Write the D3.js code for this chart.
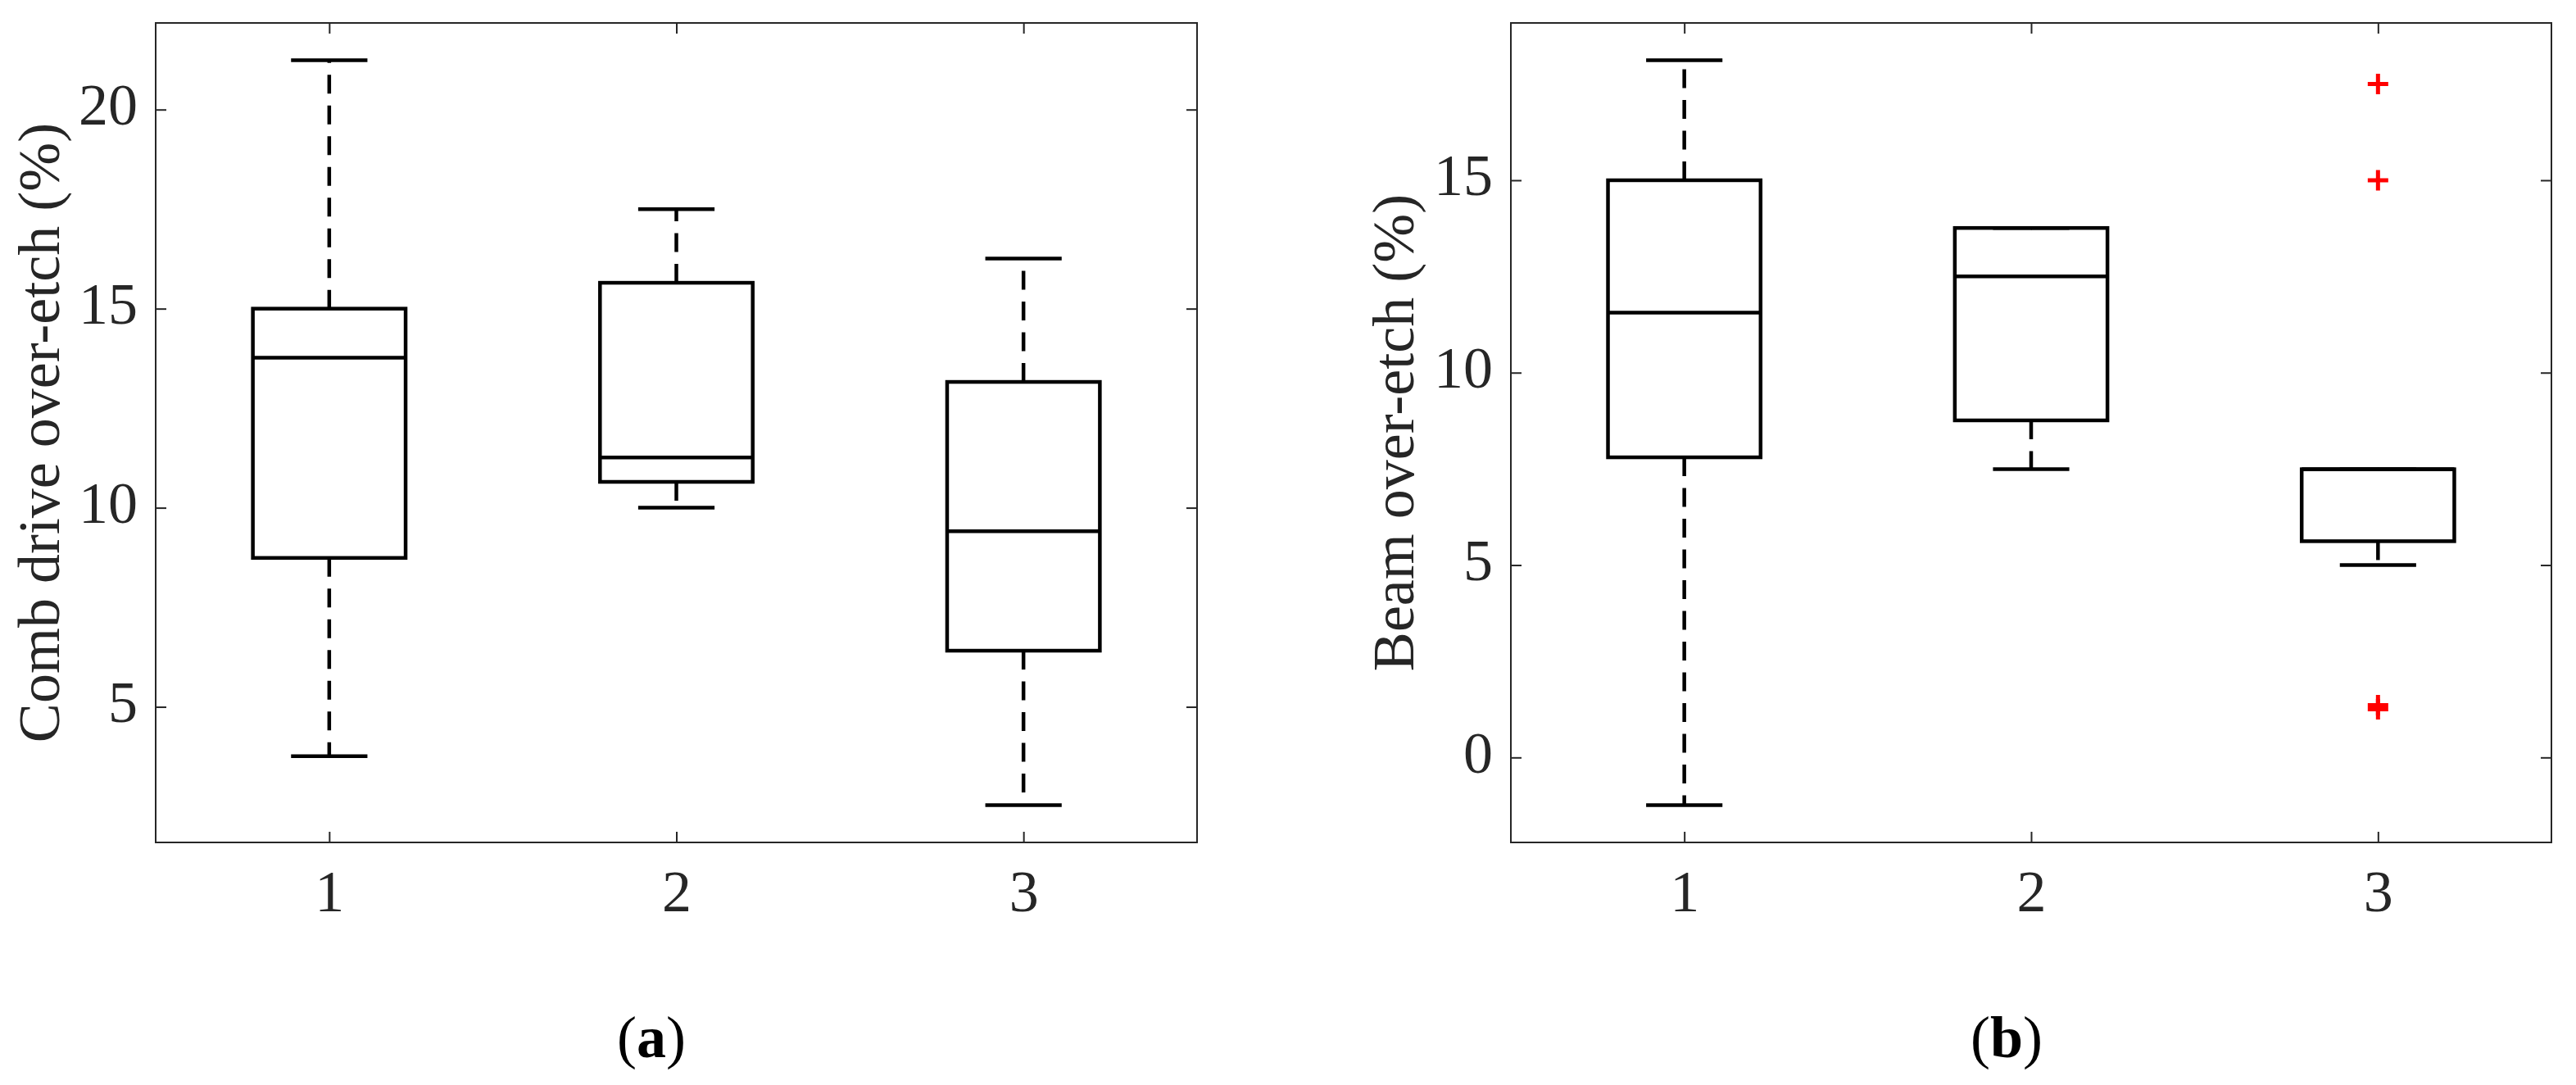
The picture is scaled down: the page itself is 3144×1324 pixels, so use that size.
<!DOCTYPE html>
<html>
<head>
    <meta charset="utf-8" />
    <title>Over-etch box plots</title>
    <style>
        body { margin: 0; background: #fff; overflow: hidden; }
    </style>
</head>
<body>
<script src="https://d3js.org/d3.v7.min.js"></script>
<script>
    var groups = [1, 2, 3];

    // (a) comb drive over-etch, one value per group
    var combLower    = [3.76, 10.0, 2.53];
    var combQ1       = [8.74, 10.65, 6.41];
    var combMedian   = [13.77, 11.26, 9.41];
    var combQ3       = [15.0, 15.65, 13.16];
    var combUpper    = [21.24, 17.5, 16.26];
    var combOutliers = [[], [], []];
    var combTicks    = [5, 10, 15, 20];

    // (b) beam over-etch
    var beamLower    = [-1.24, 7.49, 5.0];
    var beamQ1       = [7.80, 8.76, 5.62];
    var beamMedian   = [11.56, 12.50, 7.49];
    var beamQ3       = [15.0, 13.76, 7.49];
    var beamUpper    = [18.12, 13.76, 7.49];
    var beamOutliers = [[], [], [17.5, 15.0, 1.36, 1.25]];
    var beamTicks    = [0, 5, 10, 15];

    var width = 3144;
    var height = 1324;
    // note: "top" is taken by window.top, so plotTop
    var plotTop = 28, plotBottom = 1028;
    var font = "'Liberation Serif', 'DejaVu Serif', serif";
    var axisColor = "#262626";

    var svg = d3.select("body").append("svg")
                .attr("width", width)
                .attr("height", height);

    var panels = [
        {"ylabel": "Comb drive over-etch (%)", "caption": "a",
         "left": 190, "right": 1461, "labelX": 72, "captionX": 795,
         "lower": combLower, "q1": combQ1, "median": combMedian, "q3": combQ3,
         "upper": combUpper, "outliers": combOutliers, "ticks": combTicks},
        {"ylabel": "Beam over-etch (%)", "caption": "b",
         "left": 1844, "right": 3114, "labelX": 1725, "captionX": 2449,
         "lower": beamLower, "q1": beamQ1, "median": beamMedian, "q3": beamQ3,
         "upper": beamUpper, "outliers": beamOutliers, "ticks": beamTicks}
    ];

    panels.forEach(drawPanel);

    function drawPanel(p) {
        var x = d3.scaleLinear().domain([0.5, 3.5]).range([p.left, p.right]);

        // matlab style limits: data range plus 5% each side
        var all = d3.merge([p.lower, p.upper, d3.merge(p.outliers)]);
        var lo = d3.min(all), hi = d3.max(all);
        var pad = (hi - lo) * 0.05;
        var y = d3.scaleLinear().domain([lo - pad, hi + pad]).range([plotBottom, plotTop]);

        var g = svg.append("g");

        // axes, ticks pointing inward
        var left = g.append("g")
                    .attr("transform", "translate(" + p.left + ",0)")
                    .call(d3.axisLeft(y).tickValues(p.ticks).tickSizeInner(-13).tickSizeOuter(0).tickPadding(22));
        var right = g.append("g")
                     .attr("transform", "translate(" + p.right + ",0)")
                     .call(d3.axisRight(y).tickValues(p.ticks).tickSizeInner(-13).tickSizeOuter(0).tickFormat(""));
        var bot = g.append("g")
                   .attr("transform", "translate(0," + plotBottom + ")")
                   .call(d3.axisBottom(x).tickValues(groups).tickSizeInner(-13).tickSizeOuter(0).tickFormat(d3.format("d")));
        var topAx = g.append("g")
                     .attr("transform", "translate(0," + plotTop + ")")
                     .call(d3.axisTop(x).tickValues(groups).tickSizeInner(-13).tickSizeOuter(0).tickFormat(""));

        [left, right, bot, topAx].forEach(function(a) {
            a.select(".domain").remove();
            a.selectAll("line").attr("stroke", axisColor).attr("stroke-width", 2);
            a.selectAll("text")
             .attr("font-family", font)
             .attr("font-size", 72)
             .attr("fill", axisColor);
        });
        left.selectAll("text").attr("dy", "0.25em");
        bot.selectAll("text").attr("y", 84).attr("dy", 0);

        g.append("rect")
         .attr("x", p.left)
         .attr("y", plotTop)
         .attr("width", p.right - p.left)
         .attr("height", plotBottom - plotTop)
         .attr("fill", "none")
         .attr("stroke", axisColor)
         .attr("stroke-width", 2);

        var halfBox = 0.22, halfCap = 0.11;

        var boxes = g.append("g")
                     .attr("stroke", "#000")
                     .attr("stroke-width", 4.5)
                     .attr("fill", "none")
                     .selectAll("g")
                     .data(groups)
                     .enter().append("g");

        // whiskers run from the box out to the caps
        boxes.append("line")
             .attr("x1", d => x(d)).attr("x2", d => x(d))
             .attr("y1", (d, i) => y(p.q3[i]))
             .attr("y2", (d, i) => y(p.upper[i]))
             .attr("stroke-dasharray", "23,14.5");
        boxes.append("line")
             .attr("x1", d => x(d)).attr("x2", d => x(d))
             .attr("y1", (d, i) => y(p.q1[i]))
             .attr("y2", (d, i) => y(p.lower[i]))
             .attr("stroke-dasharray", "23,14.5");
        boxes.append("line")
             .attr("x1", d => x(d - halfCap)).attr("x2", d => x(d + halfCap))
             .attr("y1", (d, i) => y(p.upper[i]))
             .attr("y2", (d, i) => y(p.upper[i]));
        boxes.append("line")
             .attr("x1", d => x(d - halfCap)).attr("x2", d => x(d + halfCap))
             .attr("y1", (d, i) => y(p.lower[i]))
             .attr("y2", (d, i) => y(p.lower[i]));
        boxes.append("rect")
             .attr("x", d => x(d - halfBox))
             .attr("width", d => x(d + halfBox) - x(d - halfBox))
             .attr("y", (d, i) => y(p.q3[i]))
             .attr("height", (d, i) => y(p.q1[i]) - y(p.q3[i]));
        boxes.append("line")
             .attr("x1", d => x(d - halfBox)).attr("x2", d => x(d + halfBox))
             .attr("y1", (d, i) => y(p.median[i]))
             .attr("y2", (d, i) => y(p.median[i]));

        // outliers as red plus signs
        var pts = [];
        p.outliers.forEach(function(list, i) {
            list.forEach(function(v) { pts.push({"g": groups[i], "v": v}); });
        });
        g.append("g")
         .selectAll("path")
         .data(pts)
         .enter().append("path")
         .attr("transform", d => "translate(" + x(d.g) + "," + y(d.v) + ")")
         .attr("d", "M-12.5,0H12.5M0,-12.5V12.5")
         .attr("stroke", "#ff0000")
         .attr("stroke-width", 5)
         .attr("fill", "none");

        g.append("text")
         .attr("transform", "translate(" + p.labelX + "," + ((plotTop + plotBottom) / 2) + ") rotate(-90)")
         .attr("text-anchor", "middle")
         .attr("font-family", font)
         .attr("font-size", 72)
         .attr("fill", axisColor)
         .text(p.ylabel);

        var cap = g.append("text")
                   .attr("x", p.captionX)
                   .attr("y", 1290)
                   .attr("text-anchor", "middle")
                   .attr("font-family", font)
                   .attr("font-size", 72)
                   .attr("fill", "#000");
        cap.append("tspan").text("(");
        cap.append("tspan").attr("font-weight", "bold").text(p.caption);
        cap.append("tspan").text(")");
    }
</script>
</body>
</html>
